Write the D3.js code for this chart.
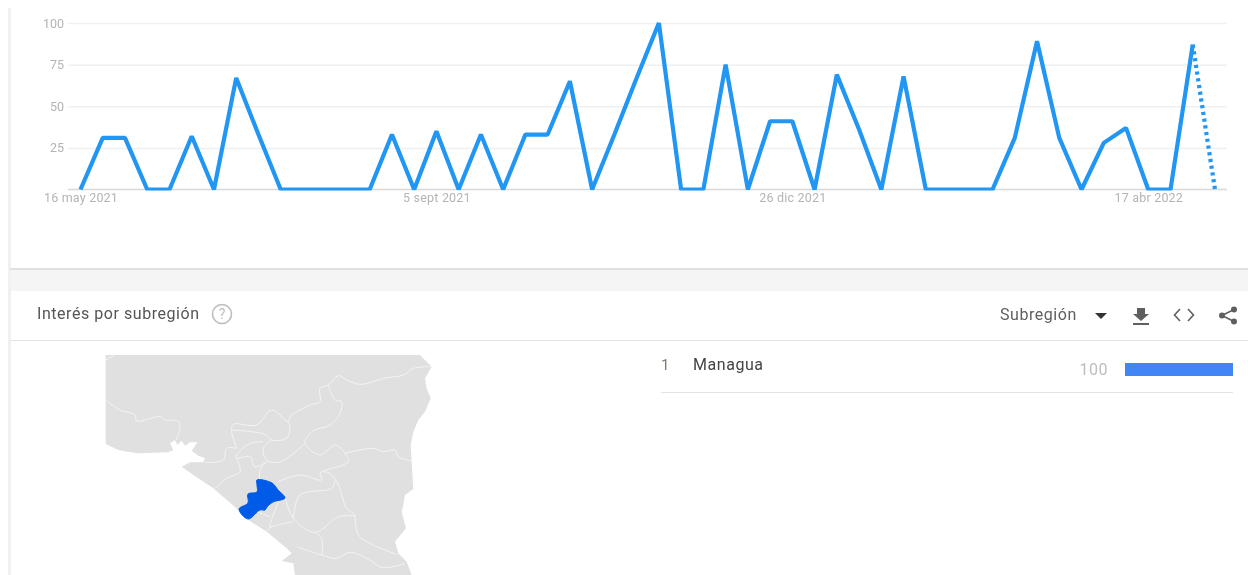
<!DOCTYPE html>
<html>
<head>
<meta charset="utf-8">
<script src="https://cdn.jsdelivr.net/npm/d3@7"></script>
<style>
html, body { margin: 0; padding: 0; background: #fff; overflow: hidden; }
svg { filter: blur(0.4px); }
text { font-family: Roboto, sans-serif; }
</style>
</head>
<body>
<svg id="chart" width="1248" height="575"></svg>
<script>
'use strict';

// weekly interest, 16 may 2021 onwards
var startDate = '2021-05-16';
var values = [0, 31, 31, 0, 0, 32, 0, 67, 33, 0, 0, 0, 0, 0, 33, 0, 35, 0, 33, 0, 33, 33, 65, 0, 33, 67, 100, 0, 0, 75,
    0, 41, 41, 0, 69, 36, 0, 68, 0, 0, 0, 0, 31, 89, 31, 0, 28, 37, 0, 0, 87, 0];
var partialFrom = 50; // last segment is dotted, week not finished

var yTicks = [0, 25, 50, 75, 100];
var tickDates = ['2021-05-16', '2021-09-05', '2021-12-26', '2022-04-17'];
var tickLabels = ['16 may 2021', '5 sept 2021', '26 dic 2021', '17 abr 2022'];

var regions = ['Managua'];
var regionValues = [100];

// map outlines, in map grid units (1080 x 690)
var mapLand = [[47, 30], [990, 30], [1025, 65], [1005, 100], [1010, 130], [1022, 160], [1005, 200], [985, 225], [970, 260],
    [962, 300], [965, 350], [970, 432], [945, 450], [940, 480], [935, 500], [948, 550], [915, 590], [925, 625], [950, 650],
    [965, 690], [615, 690], [610, 655], [575, 648], [605, 625], [590, 610], [530, 560], [475, 525], [445, 495], [370, 430],
    [310, 390], [275, 365], [300, 352], [340, 352], [345, 340], [325, 332], [305, 318], [322, 292], [300, 292], [285, 302],
    [275, 287], [262, 300], [255, 285], [240, 295], [250, 315], [235, 322], [140, 325], [85, 315], [47, 297]];
var mapManagua = [[501, 405], [546, 414], [564, 435], [585, 459], [549, 471], [531, 486], [525, 495], [510, 495],
    [474, 522], [447, 492], [474, 474], [474, 447], [501, 441], [501, 420]];
var mapBorders = [
    [[47, 45], [75, 30]],
    [[47, 165], [90, 195], [135, 210], [140, 228], [210, 215], [225, 225], [265, 228], [270, 250], [258, 285]],
    [[1025, 65], [970, 70], [940, 90], [880, 100], [850, 110], [810, 118], [770, 105], [745, 92], [715, 120], [690, 130],
        [690, 170], [660, 180], [600, 215], [595, 230], [545, 195], [500, 240], [430, 238], [425, 260], [440, 310]],
    [[715, 120], [735, 165], [755, 170], [750, 205], [720, 240], [665, 260], [645, 295], [690, 330], [735, 300], [765, 325],
        [775, 350], [700, 378], [690, 385], [695, 405], [630, 390], [565, 410]],
    [[595, 230], [600, 245], [590, 280], [545, 285], [525, 268], [425, 255]],
    [[545, 285], [520, 310], [530, 345], [565, 352], [610, 325], [645, 295]],
    [[520, 290], [480, 295], [440, 330], [440, 340], [480, 335], [495, 365], [530, 350]],
    [[530, 350], [510, 375], [510, 405]],
    [[440, 310], [410, 310], [400, 345], [345, 352]],
    [[440, 340], [450, 380], [410, 400], [375, 430]],
    [[765, 325], [850, 310], [880, 320], [915, 315], [925, 335], [968, 348]],
    [[700, 380], [720, 385], [745, 420], [770, 490], [795, 510], [745, 515], [675, 562], [610, 520], [585, 455]],
    [[735, 405], [725, 430], [630, 450], [610, 520]],
    [[795, 510], [805, 570], [850, 600], [920, 628]],
    [[675, 562], [695, 580], [695, 630]],
    [[620, 605], [695, 630], [740, 640], [780, 622], [830, 640], [880, 668], [945, 655]],
    [[610, 530], [540, 548], [530, 560]],
    [[565, 470], [540, 540], [540, 548]],
    [[500, 500], [540, 515]]
];

var lineColor = '#2196f3';
var gridColor = '#f0f0f0';
var tickColor = '#b4b4b4';

var svg = d3.select('#chart');
var parseTime = d3.timeParse('%Y-%m-%d');

// panels
svg.append('rect').attr('x', 10).attr('y', 268).attr('width', 1238).attr('height', 23).attr('fill', '#f5f5f5');
svg.append('rect').attr('x', 8).attr('y', 8).attr('width', 3).attr('height', 567).attr('fill', '#f1f1f1');
svg.append('rect').attr('x', 10).attr('y', 268).attr('width', 1238).attr('height', 2).attr('fill', '#e0e0e0');
svg.append('rect').attr('x', 10).attr('y', 340).attr('width', 1238).attr('height', 1).attr('fill', '#e4e4e4');

// line chart
var series = values.map(function(value, index) {
    return {date: d3.timeDay.offset(parseTime(startDate), index * 7), value: value};
});

var x = d3.scaleTime()
    .domain([series[0].date, series[series.length - 1].date])
    .range([80.5, 1215]);

var y = d3.scaleLinear()
    .domain([0, 100])
    .range([189.5, 23]);

var yAxis = svg.append('g')
    .attr('transform', 'translate(68,0)')
    .call(d3.axisLeft(y).tickValues(yTicks.slice(1)).tickSize(-1159).tickPadding(4));
yAxis.select('.domain').remove();
yAxis.selectAll('line').attr('stroke', gridColor).attr('stroke-width', 1.5);
yAxis.selectAll('text').attr('fill', tickColor).style('font-size', '12.5px').style('font-family', 'Roboto, sans-serif');

var xAxis = svg.append('g')
    .attr('transform', 'translate(0,' + y(0) + ')')
    .call(d3.axisBottom(x)
        .tickValues(tickDates.map(parseTime))
        .tickFormat(function(d, i) { return tickLabels[i]; })
        .tickSize(0)
        .tickPadding(4));
xAxis.select('.domain').attr('d', 'M68,0H1227').attr('stroke', '#d8d8d8').attr('stroke-width', 1.5);
xAxis.selectAll('text').attr('fill', tickColor).style('font-size', '12.5px').style('letter-spacing', '0.2px').style('font-family', 'Roboto, sans-serif');

var line = d3.line()
    .x(function(d) { return x(d.date); })
    .y(function(d) { return y(d.value); });

// the line is cut at the plot edges, tips and flat zero runs included
svg.append('clipPath')
    .attr('id', 'plot-clip')
    .append('rect')
    .attr('x', 0).attr('y', y(100) - 1.5)
    .attr('width', 1248).attr('height', y(0) - y(100) + 2.5);

var lines = svg.append('g').attr('clip-path', 'url(#plot-clip)');

lines.append('path')
    .attr('d', line(series.slice(0, partialFrom + 1)))
    .attr('fill', 'none')
    .attr('stroke', lineColor)
    .attr('stroke-width', 4.2)
    .attr('stroke-linejoin', 'bevel');

lines.append('path')
    .attr('d', line(series.slice(partialFrom)))
    .attr('fill', 'none')
    .attr('stroke', lineColor)
    .attr('stroke-width', 4.2)
    .attr('stroke-dasharray', '3.2,3.6');

// section header
svg.append('text')
    .attr('x', 37).attr('y', 319)
    .attr('fill', '#555')
    .style('font-size', '16px')
    .style('letter-spacing', '0.55px')
    .text('Interés por subregión');

svg.append('circle')
    .attr('cx', 222).attr('cy', 314).attr('r', 9.5)
    .attr('fill', 'none').attr('stroke', '#bdbdbd').attr('stroke-width', 1.6);
svg.append('text')
    .attr('x', 222).attr('y', 319)
    .attr('text-anchor', 'middle')
    .attr('fill', '#bdbdbd')
    .style('font-size', '14px')
    .text('?');

svg.append('text')
    .attr('x', 1000).attr('y', 320)
    .attr('fill', '#5f5f5f')
    .style('font-size', '16px')
    .style('letter-spacing', '0.55px')
    .text('Subregión');

// dropdown + toolbar icons
var icons = svg.append('g').attr('fill', '#5f5f5f');
icons.append('path').attr('d', 'M1095,313H1107L1101,319Z').attr('fill', '#333');
icons.append('path').attr('d', 'M1137,308H1145V314H1149L1141,321L1133,314H1137ZM1133,323H1149V325H1133Z');
svg.append('path')
    .attr('d', 'M1180,309L1174.5,315L1180,321M1188,309L1193.5,315L1188,321')
    .attr('fill', 'none').attr('stroke', '#5f5f5f').attr('stroke-width', 1.6);
svg.append('path')
    .attr('d', 'M1234,309.5L1222,315.5L1234,321.5')
    .attr('fill', 'none').attr('stroke', '#5f5f5f').attr('stroke-width', 1.6);
[[1234, 309.5], [1222, 315.5], [1234, 321.5]].forEach(function(p) {
    icons.append('circle').attr('cx', p[0]).attr('cy', p[1]).attr('r', 3);
});

// map
var mapX = d3.scaleLinear().domain([0, 1080]).range([90, 450]);
var mapY = d3.scaleLinear().domain([0, 690]).range([345, 575]);
var mapLine = d3.line()
    .x(function(d) { return mapX(d[0]); })
    .y(function(d) { return mapY(d[1]); });
var mapCurve = d3.line()
    .x(function(d) { return mapX(d[0]); })
    .y(function(d) { return mapY(d[1]); })
    .curve(d3.curveCatmullRom.alpha(0.5));

svg.append('path')
    .attr('d', mapLine(mapLand) + 'Z')
    .attr('fill', '#e0e0e0');

svg.selectAll('.border')
    .data(mapBorders)
    .enter().append('path')
    .attr('class', 'border')
    .attr('d', mapCurve)
    .attr('fill', 'none')
    .attr('stroke', '#f4f4f4')
    .attr('stroke-width', 1);

svg.append('path')
    .attr('d', d3.line()
        .x(function(d) { return mapX(d[0]); })
        .y(function(d) { return mapY(d[1]); })
        .curve(d3.curveCatmullRomClosed.alpha(0.5))(mapManagua))
    .attr('fill', '#005be8')
    .attr('stroke', '#005be8')
    .attr('stroke-linejoin', 'round');

// region list
var barX = d3.scaleLinear().domain([0, 100]).range([1125, 1233]);

regions.forEach(function(region, index) {
    svg.append('text')
        .attr('x', 661).attr('y', 370)
        .attr('fill', '#7d7d6a')
        .style('font-size', '15px')
        .text(index + 1);
    svg.append('text')
        .attr('x', 693).attr('y', 370)
        .attr('fill', '#444')
        .style('font-size', '16px')
        .style('letter-spacing', '0.55px')
        .text(region);
    svg.append('text')
        .attr('x', 1108).attr('y', 375)
        .attr('text-anchor', 'end')
        .attr('fill', '#bdbdbd')
        .style('font-size', '16px')
        .style('letter-spacing', '0.5px')
        .text(regionValues[index]);
    svg.append('rect')
        .attr('x', barX(0)).attr('y', 363)
        .attr('width', barX(regionValues[index]) - barX(0))
        .attr('height', 13)
        .attr('fill', '#4285f4');
});

svg.append('rect').attr('x', 661).attr('y', 392).attr('width', 572).attr('height', 1).attr('fill', '#e4e4e4');
</script>
</body>
</html>
